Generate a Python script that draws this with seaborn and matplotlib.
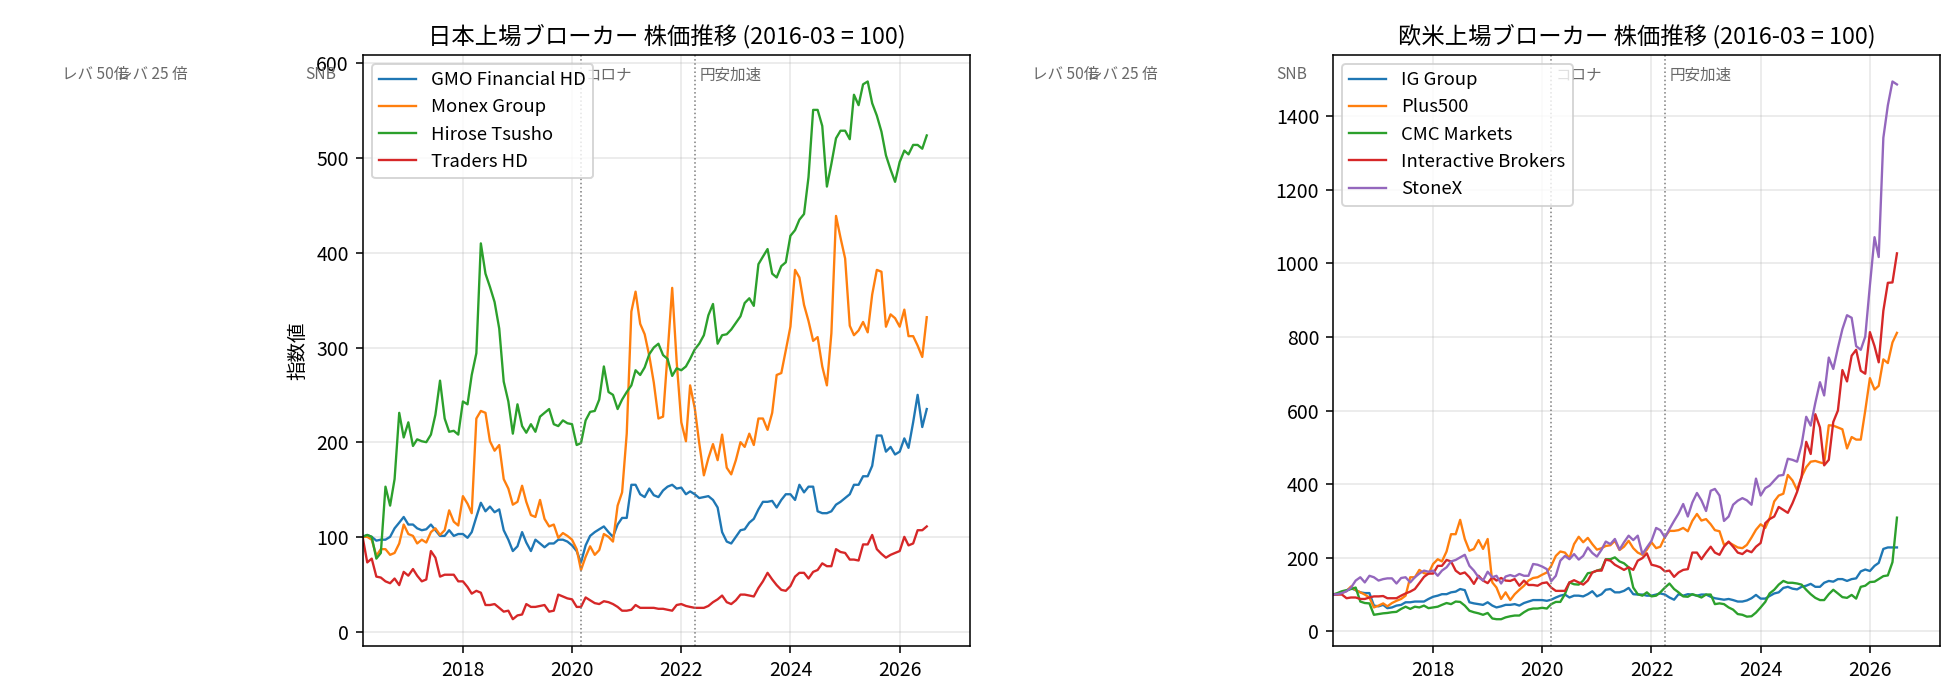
import pandas as pd
import matplotlib
matplotlib.use('Agg')
import matplotlib.pyplot as plt
import matplotlib.dates as mdates
import seaborn as sns

# 月次インデックス (2016-03 = 100)
dates = pd.date_range('2016-03-01', periods=125, freq='MS')

# 日本上場ブローカー
gmo = [100, 102, 100, 96, 97, 97, 100, 109, 115, 121, 113, 113, 109, 107, 108, 113, 107, 101, 101, 107,
       101, 103, 103, 99, 105, 121, 136, 127, 132, 126, 129, 107, 97, 85, 90, 105, 94, 85, 97, 93,
       89, 93, 93, 97, 97, 95, 91, 85, 73, 91, 101, 105, 108, 111, 105, 100, 113, 120, 120, 155,
       155, 145, 142, 151, 144, 142, 149, 153, 155, 151, 152, 145, 148, 145, 141, 142, 143, 139, 131, 105,
       95, 93, 100, 107, 108, 115, 119, 129, 137, 137, 138, 131, 139, 145, 145, 139, 155, 147, 153, 153,
       127, 125, 125, 127, 134, 137, 141, 145, 155, 155, 164, 164, 175, 207, 207, 190, 195, 187, 190, 204,
       194, 221, 250, 216, 235]
monex = [100, 100, 97, 80, 87, 87, 81, 83, 93, 113, 103, 101, 93, 97, 94, 105, 109, 102, 107, 128,
         116, 112, 143, 135, 125, 225, 233, 231, 201, 191, 197, 161, 151, 134, 137, 154, 137, 123, 121, 139,
         119, 111, 113, 99, 104, 101, 97, 87, 65, 79, 90, 81, 86, 103, 100, 95, 133, 147, 209, 338,
         359, 325, 314, 291, 263, 225, 227, 293, 363, 285, 221, 201, 260, 236, 199, 165, 183, 198, 181, 208,
         173, 166, 181, 200, 195, 209, 197, 225, 225, 213, 231, 271, 273, 297, 322, 382, 374, 345, 328, 307,
         311, 280, 260, 315, 439, 416, 394, 323, 313, 318, 327, 316, 356, 382, 380, 322, 335, 331, 322, 340,
         312, 312, 302, 290, 332]
hirose = [100, 102, 100, 77, 83, 153, 133, 161, 231, 205, 221, 196, 203, 201, 200, 208, 229, 265, 225, 211,
          212, 208, 243, 240, 271, 294, 410, 378, 364, 348, 320, 264, 243, 209, 240, 217, 210, 219, 211, 227,
          231, 235, 219, 217, 223, 220, 219, 197, 199, 223, 232, 233, 245, 280, 253, 250, 235, 245, 253, 260,
          276, 271, 279, 293, 300, 304, 292, 288, 270, 278, 276, 280, 288, 298, 304, 313, 334, 346, 304, 313,
          314, 319, 326, 333, 347, 352, 344, 388, 396, 404, 378, 374, 386, 390, 418, 424, 435, 441, 480, 551,
          551, 534, 470, 494, 521, 529, 529, 520, 567, 556, 578, 581, 558, 545, 528, 503, 488, 475, 496, 508,
          504, 514, 514, 510, 524]
traders = [100, 73, 77, 58, 57, 53, 51, 56, 49, 63, 59, 66, 59, 53, 55, 85, 78, 58, 60, 60,
           60, 53, 53, 47, 40, 43, 41, 28, 28, 29, 25, 21, 22, 13, 17, 18, 29, 26, 26, 27,
           28, 21, 22, 39, 37, 35, 34, 26, 26, 36, 33, 30, 29, 32, 31, 29, 26, 22, 22, 23,
           28, 25, 25, 25, 25, 24, 24, 23, 22, 28, 29, 27, 26, 25, 25, 25, 27, 31, 34, 38,
           31, 29, 33, 39, 39, 38, 37, 46, 53, 62, 55, 49, 44, 43, 48, 58, 62, 62, 56, 63,
           65, 72, 69, 69, 87, 84, 83, 76, 76, 75, 92, 92, 102, 87, 82, 78, 81, 83, 85, 100,
           91, 93, 107, 107, 111]

# 欧米上場ブローカー
ig = [100, 101, 106, 110, 117, 112, 106, 104, 104, 70, 68, 72, 63, 65, 70, 72, 79, 79, 81, 81,
      81, 88, 94, 97, 101, 101, 106, 108, 115, 112, 79, 76, 74, 72, 79, 70, 65, 68, 72, 72,
      74, 70, 77, 81, 85, 85, 85, 83, 86, 92, 97, 100, 92, 97, 97, 95, 101, 109, 95, 101,
      113, 115, 106, 106, 110, 118, 101, 100, 100, 97, 97, 100, 103, 100, 92, 86, 101, 97, 101, 100,
      97, 100, 100, 94, 90, 88, 86, 88, 85, 81, 81, 84, 90, 99, 89, 89, 96, 103, 106, 118,
      121, 116, 114, 121, 124, 129, 121, 121, 132, 137, 135, 142, 142, 137, 142, 144, 163, 168, 164, 178,
      186, 224, 228, 228, 228]
plus500 = [100, 101, 104, 110, 122, 112, 106, 100, 92, 65, 70, 76, 68, 77, 83, 88, 97, 147, 147, 167,
           158, 156, 183, 196, 190, 217, 264, 264, 303, 251, 219, 224, 248, 224, 251, 133, 119, 88, 106, 85,
           101, 113, 124, 138, 145, 147, 154, 160, 178, 205, 217, 214, 199, 237, 257, 242, 254, 237, 222, 226,
           232, 234, 246, 221, 230, 246, 226, 214, 208, 222, 242, 226, 230, 257, 273, 273, 275, 281, 272, 300,
           319, 301, 305, 291, 275, 272, 235, 242, 235, 228, 226, 235, 255, 276, 291, 281, 307, 353, 369, 374,
           425, 410, 384, 420, 446, 461, 463, 459, 456, 560, 559, 554, 549, 497, 528, 521, 521, 600, 688, 657,
           667, 739, 729, 785, 811]
cmc = [100, 104, 109, 112, 115, 119, 81, 77, 76, 45, 47, 49, 50, 52, 53, 61, 67, 61, 67, 65,
       70, 63, 65, 67, 72, 77, 74, 81, 80, 70, 56, 52, 49, 45, 50, 35, 33, 33, 38, 41,
       43, 43, 52, 59, 62, 62, 64, 62, 74, 80, 80, 101, 133, 128, 127, 138, 158, 160, 165, 169,
       196, 196, 201, 190, 185, 174, 119, 101, 97, 106, 95, 97, 106, 119, 130, 115, 106, 95, 94, 101,
       97, 92, 100, 100, 74, 76, 74, 65, 59, 47, 45, 40, 41, 51, 65, 80, 103, 113, 127, 137,
       132, 132, 130, 127, 113, 101, 91, 85, 85, 101, 113, 103, 93, 91, 99, 89, 121, 124, 134, 135,
       142, 150, 152, 188, 309]
ibkr = [100, 100, 100, 90, 92, 92, 88, 88, 92, 95, 95, 96, 90, 90, 90, 97, 103, 108, 115, 131,
        148, 157, 157, 178, 178, 194, 190, 165, 156, 160, 147, 129, 151, 138, 131, 147, 138, 145, 138, 137,
        142, 124, 138, 126, 126, 124, 131, 133, 119, 110, 110, 110, 133, 139, 133, 127, 138, 160, 165, 165,
        195, 192, 181, 174, 167, 174, 167, 192, 199, 212, 181, 178, 174, 163, 165, 148, 160, 167, 169, 214,
        214, 196, 214, 230, 214, 208, 230, 244, 230, 214, 210, 220, 215, 230, 240, 294, 305, 312, 338, 330,
        322, 348, 379, 420, 515, 482, 590, 554, 451, 466, 569, 600, 710, 679, 749, 765, 708, 700, 813, 775,
        731, 871, 947, 948, 1027]
stonex = [100, 101, 104, 109, 119, 138, 147, 133, 151, 147, 138, 142, 144, 144, 130, 145, 147, 133, 147, 157,
          165, 162, 165, 151, 165, 174, 190, 194, 201, 208, 178, 165, 147, 138, 162, 147, 151, 130, 149, 153,
          149, 156, 151, 151, 183, 181, 176, 169, 136, 151, 192, 205, 196, 210, 195, 205, 228, 213, 203, 222,
          244, 237, 251, 222, 242, 260, 248, 260, 210, 228, 246, 281, 275, 255, 278, 300, 320, 346, 312, 350,
          376, 356, 327, 382, 387, 369, 300, 312, 344, 355, 362, 356, 344, 415, 369, 389, 396, 410, 423, 425,
          469, 466, 461, 507, 583, 559, 621, 677, 641, 744, 713, 770, 821, 859, 852, 775, 765, 801, 940, 1071,
          1017, 1341, 1429, 1494, 1486]

# イベント
event_dates = ['2010-08-01', '2011-08-01', '2015-01-15', '2020-03-01', '2022-04-01']
event_labels = ['レバ 50倍', 'レバ 25 倍', 'SNB', 'コロナ', '円安加速']

plt.rcParams['font.family'] = ['Noto Sans CJK JP', 'DejaVu Sans']

jp = pd.DataFrame({'date': dates, 'GMO Financial HD': gmo, 'Monex Group': monex,
                   'Hirose Tsusho': hirose, 'Traders HD': traders})
us = pd.DataFrame({'date': dates, 'IG Group': ig, 'Plus500': plus500, 'CMC Markets': cmc,
                   'Interactive Brokers': ibkr, 'StoneX': stonex})

fig = plt.figure(figsize=(14, 5), dpi=140)
ax1 = fig.add_axes([0.185, 0.077, 0.310, 0.845])
ax2 = fig.add_axes([0.680, 0.077, 0.310, 0.845])

panels = [(ax1, jp, '日本上場ブローカー 株価推移 (2016-03 = 100)'),
          (ax2, us, '欧米上場ブローカー 株価推移 (2016-03 = 100)')]

for ax, df, title in panels:
    long = df.melt(id_vars='date', var_name='company', value_name='index')
    sns.lineplot(data=long, x='date', y='index', hue='company', ax=ax, linewidth=1.2)
    for d, label in zip(event_dates, event_labels):
        ax.axvline(pd.Timestamp(d), color='gray', linestyle=':', linewidth=0.8)
        ax.text(mdates.date2num(pd.Timestamp(d) + pd.Timedelta(days=30)), 0.98, label,
                transform=ax.get_xaxis_transform(), fontsize=8, color='dimgray', va='top')
    # 左端は 2016-03 から
    ax.set_xlim(left=dates[0])
    ax.set_title(title, fontsize=12)
    ax.set_xlabel('')
    ax.set_ylabel('')
    ax.grid(True, alpha=0.3)
    ax.legend(loc='upper left', fontsize=9.5)

ax1.set_ylabel('指数値')

fig.savefig('out.png', dpi=140)
